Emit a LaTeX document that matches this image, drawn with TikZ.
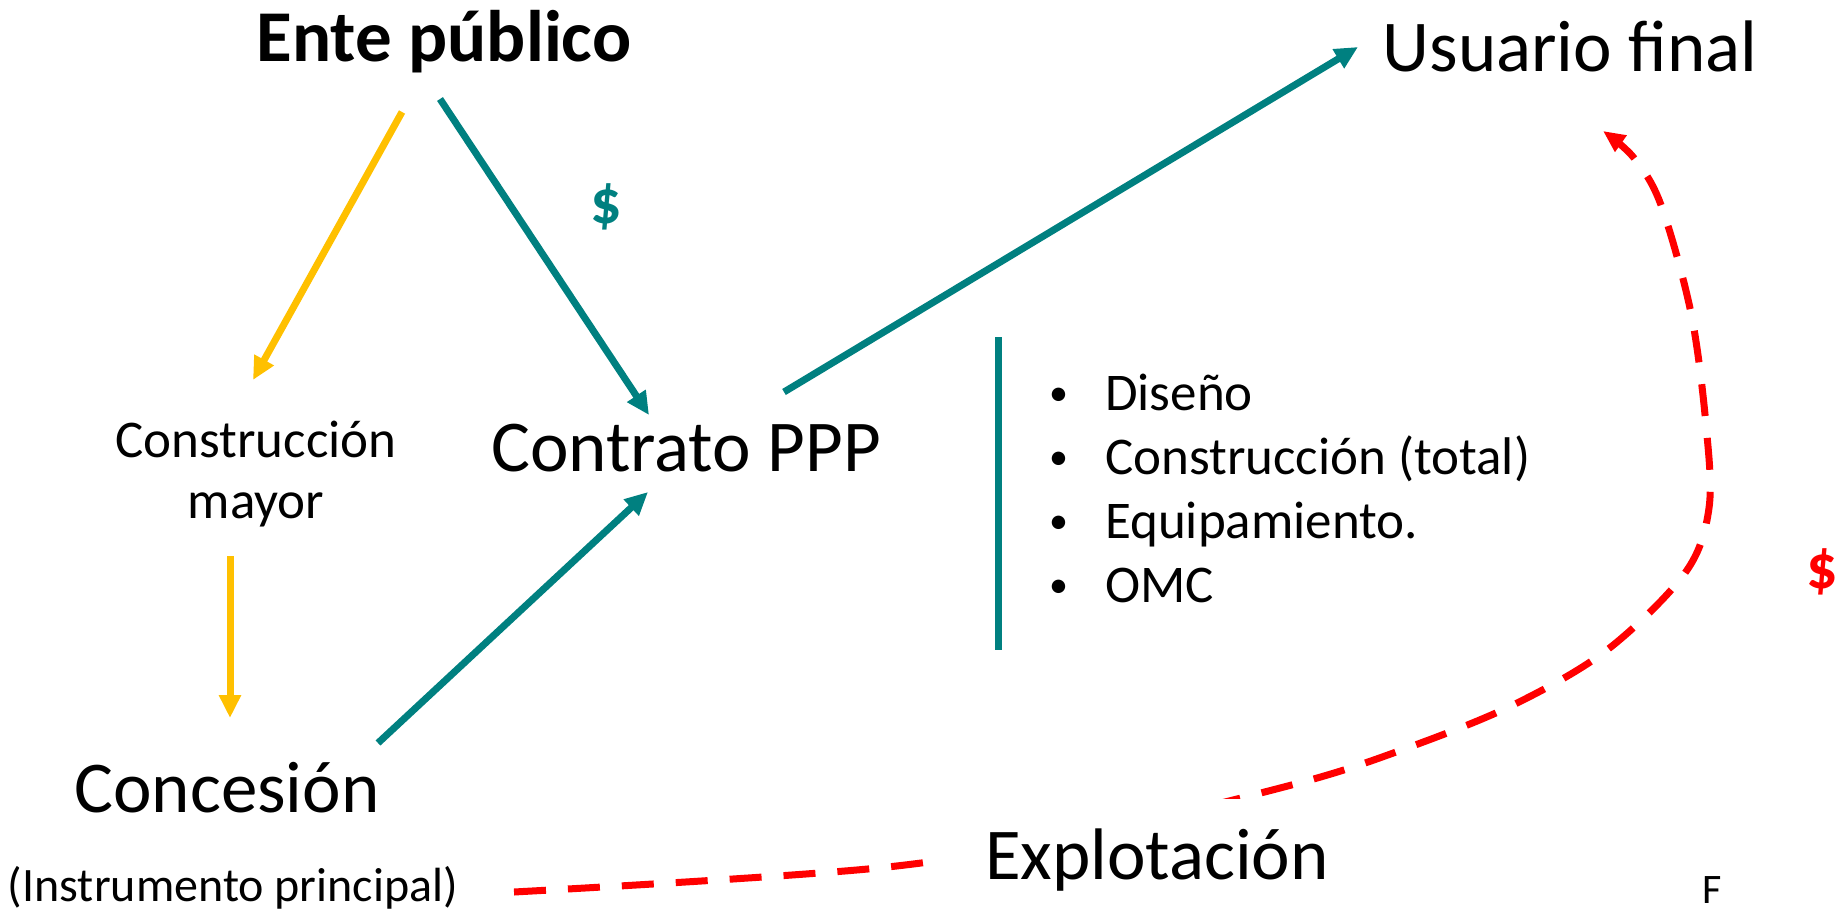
\documentclass[tikz,border=0pt]{standalone}
\usepackage{fontspec}
\setmainfont{Carlito}
\usetikzlibrary{arrows.meta}
\definecolor{tealc}{RGB}{0,128,128}
\definecolor{goldc}{RGB}{255,192,0}
\definecolor{redc}{RGB}{255,0,0}
\newcommand\mybul{\raisebox{5pt}{\fontsize{38}{38}\selectfont •}}
\begin{document}
\begin{tikzpicture}[x=1pt,y=-1pt,
  lbl/.style={inner sep=0pt, anchor=base},
  big/.style={lbl, font=\fontsize{73}{88}\selectfont},
  mid/.style={lbl, font=\fontsize{53}{61}\selectfont},
  tealarrow/.style={draw=tealc, line width=7pt, -{Triangle[length=23pt,width=21pt]}},
  goldarrow/.style={draw=goldc, line width=7pt, -{Triangle[length=23pt,width=21pt]}},
  redflow/.style={draw=redc, line width=7pt, dash pattern=on 32pt off 22pt, -{Triangle[length=22pt,width=19pt]}},
  money/.style={inner sep=0pt, anchor=center, font=\bfseries\fontsize{62}{66}\selectfont}]
\useasboundingbox (0,0) rectangle (1847,910);

% text nodes
\node[big, font=\bfseries\fontsize{73}{88}\selectfont] (ente) at (444,61) {Ente público};
\node[big] (usuario) at (1570,71) {Usuario final};
\node[mid, align=center] (constr) at (256,518) {Construcción\\mayor};
\node[big] (contrato) at (686,471) {Contrato PPP};
\node[big] (concesion) at (227,812) {Concesión};
\node[lbl, font=\fontsize{48}{58}\selectfont] (instr) at (233,901) {(Instrumento principal)};
\node[money, text=tealc] (dteal) at (606,207) {\$};
\node[money, text=redc] (dred) at (1822,572) {\$};
\node[lbl, font=\fontsize{42}{50}\selectfont] (fnote) at (1712,903) {F};

% bullet list with teal bar
\coordinate (bartop) at (998,337);
\coordinate (barbot) at (998,650);
\draw[tealc, line width=7pt] (bartop) -- (barbot);
\node[lbl, anchor=base west, font=\fontsize{53}{64}\selectfont] (list) at (1049,410)
  {\begin{tabular}[t]{@{}p{56pt}@{}l@{}}
   \mybul & Diseño\\
   \mybul & Construcción (total)\\
   \mybul & Equipamiento.\\
   \mybul & OMC
   \end{tabular}};

% connector end points
\coordinate (y1s) at (402,112);
\coordinate (y1e) at (253,380);
\coordinate (y2s) at (230,556);
\coordinate (y2e) at (230,718);
\coordinate (t1s) at (440,99);
\coordinate (t1e) at (649,415);
\coordinate (t3s) at (378,743);
\coordinate (t3e) at (648,492);
\coordinate (t4s) at (784,392);
\coordinate (t4e) at (1358,47);
\coordinate (rs) at (514,892);
\coordinate (re) at (1603,131);

\draw[goldarrow] (y1s) -- (y1e);
\draw[goldarrow] (y2s) -- (y2e);
\draw[tealarrow] (t1s) -- (t1e);
\draw[tealarrow] (t3s) -- (t3e);
\draw[tealarrow] (t4s) -- (t4e);

% red dashed flow (passes behind "Explotación")
\draw[redflow] plot[smooth, tension=0.55] coordinates {
  (rs) (878,868) (1090,833) (1299,783) (1407,748) (1513,705) (1607,650)
  (1685,573) (1709,508) (1706,425) (1691,313) (1661,205) (1634,158) (re)};

\node[big, fill=white, inner xsep=52pt, inner ysep=29pt] (explot) at (1157,879) {Explotación};
\end{tikzpicture}
\end{document}
